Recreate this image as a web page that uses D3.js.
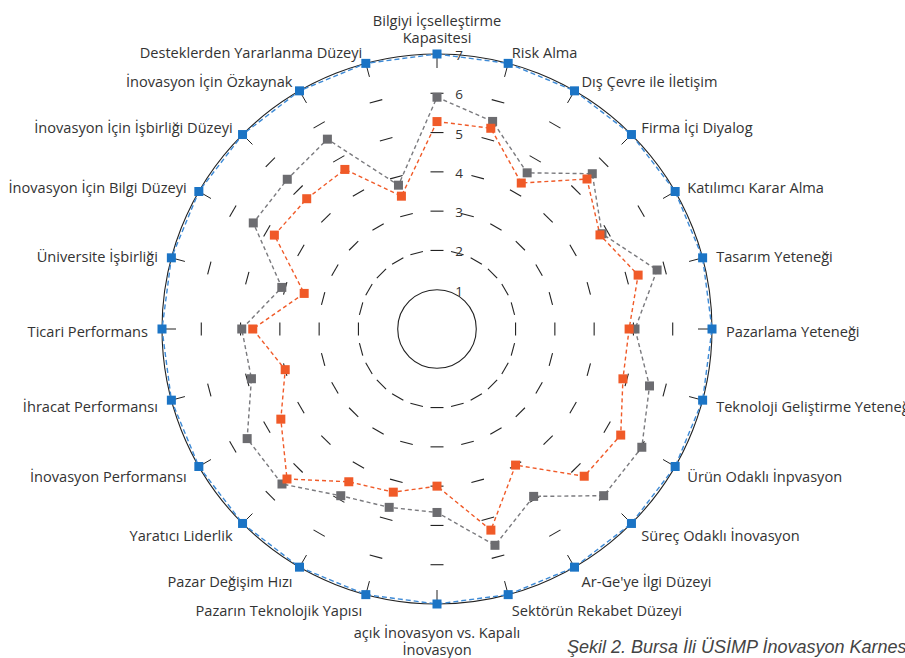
<!DOCTYPE html>
<html><head><meta charset="utf-8">
<script src="https://cdn.jsdelivr.net/npm/d3@7"></script>
<style>
html,body{margin:0;padding:0;background:#fff;overflow:hidden;}
svg{display:block;}
</style></head>
<body>
<svg id="chart" width="905" height="658"></svg>
<script>
const categories = [
  "Bilgiyi İçselleştirme\nKapasitesi",
  "Risk Alma",
  "Dış Çevre ile İletişim",
  "Firma İçi Diyalog",
  "Katılımcı Karar Alma",
  "Tasarım Yeteneği",
  "Pazarlama Yeteneği",
  "Teknoloji Geliştirme Yeteneği",
  "Ürün Odaklı İnpvasyon",
  "Süreç Odaklı İnovasyon",
  "Ar-Ge'ye İlgi Düzeyi",
  "Sektörün Rekabet Düzeyi",
  "açık İnovasyon vs. Kapalı\nİnovasyon",
  "Pazarın Teknolojik Yapısı",
  "Pazar Değişim Hızı",
  "Yaratıcı Liderlik",
  "İnovasyon Performansı",
  "İhracat Performansı",
  "Ticari Performans",
  "Üniversite İşbirliği",
  "İnovasyon İçin Bilgi Düzeyi",
  "İnovasyon İçin İşbirliği Düzeyi",
  "İnovasyon İçin Özkaynak",
  "Desteklerden Yararlanma Düzeyi"
];
const blueValues   = [7,7,7,7,7,7,7,7,7,7,7,7,7,7,7,7,7,7,7,7,7,7,7,7];
const grayValues   = [5.9,5.47,4.59,5.59,4.85,5.8,5.04,5.6,6.02,6.0,4.92,5.7,4.67,4.7,4.9,5.58,5.58,4.89,4.97,4.09,5.4,5.39,5.58,3.79];
const orangeValues = [5.28,5.29,4.29,5.4,4.79,5.3,4.89,4.9,5.4,5.3,4.0,5.3,4.0,4.3,4.49,5.4,4.59,4.0,4.69,3.5,4.78,4.69,4.69,3.5];
const tickValues   = [1,2,3,4,5,6,7];
const caption = "Şekil 2. Bursa İli ÜSİMP İnovasyon Karnesi";

const cx = 437, cy = 329, R = 275;
const FONT = "'Open Sans', 'Noto Sans', sans-serif";
const svg = d3.select("#chart");
const g = svg.append("g").attr("transform", `translate(${cx},${cy})`);

const r = d3.scaleLinear().domain([0, 7]).range([0, R]);
const angle = d3.scaleLinear().domain([0, categories.length]).range([0, 2 * Math.PI]);
const px = (i, v) => r(v) * Math.sin(angle(i));
const py = (i, v) => -r(v) * Math.cos(angle(i));

// grid: inner and outer solid circles
[tickValues[0], tickValues[tickValues.length - 1]].forEach(t => {
  g.append("circle").attr("r", r(t)).attr("fill", "none")
    .attr("stroke", "#222").attr("stroke-width", 1.1);
});
// per-axis short ticks on intermediate levels
const mid = tickValues.slice(1, -1);
categories.forEach((c, i) => {
  const a = angle(i);
  const ux = Math.sin(a), uy = -Math.cos(a);
  const tx = -uy, ty = ux;
  mid.forEach(t => {
    const x0 = r(t) * ux, y0 = r(t) * uy;
    g.append("line")
      .attr("x1", x0 - tx * 6.5).attr("y1", y0 - ty * 6.5)
      .attr("x2", x0 + tx * 6.5).attr("y2", y0 + ty * 6.5)
      .attr("stroke", "#222").attr("stroke-width", 1.1);
  });
  // radial tick at outer ring
  g.append("line")
    .attr("x1", r(7) * ux).attr("y1", r(7) * uy)
    .attr("x2", (r(7) - 14) * ux).attr("y2", (r(7) - 14) * uy)
    .attr("stroke", "#222").attr("stroke-width", 1);
});

// level labels
g.selectAll("text.lvl").data(tickValues).join("text")
  .attr("class", "lvl")
  .attr("x", 22).attr("y", d => -r(d) + 1)
  .attr("text-anchor", "middle").attr("dominant-baseline", "central")
  .attr("font-family", FONT).attr("font-size", 13.5).attr("fill", "#333")
  .text(d => d);

// series
const line = d3.lineRadial().angle((d, i) => angle(i)).radius(d => r(d)).curve(d3.curveLinearClosed);
const series = [
  {vals: blueValues, color: "#1b74c5", line: "#3d8ad6", dash: "5,3"},
  {vals: grayValues, color: "#6c6c70", line: "#7a7a7e", dash: "4,3"},
  {vals: orangeValues, color: "#f05a28", line: "#f05a28", dash: "4,3"}
];
series.forEach(s => {
  g.append("path").datum(s.vals).attr("d", line)
    .attr("fill", "none").attr("stroke", s.line)
    .attr("stroke-width", 1.4).attr("stroke-dasharray", s.dash);
});
series.forEach(s => {
  g.selectAll(null).data(s.vals).join("rect")
    .attr("x", (d, i) => px(i, d) - 4.5).attr("y", (d, i) => py(i, d) - 4.5)
    .attr("width", 9).attr("height", 9).attr("fill", s.color);
});

// category labels
const LR = 289;
categories.forEach((c, i) => {
  const a = angle(i);
  const sx = Math.sin(a), cyy = -Math.cos(a);
  const lines = c.split("\n");
  let x = LR * sx, y = LR * cyy + 2;
  let anchor = "start";
  if (Math.abs(sx) < 0.01) {
    anchor = "middle";
    if (cyy < 0) y = -R - 34;
    else y = R + 28;
  } else if (sx < 0) anchor = "end";
  const t = g.append("text")
    .attr("text-anchor", anchor)
    .attr("font-family", FONT).attr("font-size", 14.6).attr("fill", "#333");
  lines.forEach((ln, k) => {
    t.append("tspan").attr("x", x).attr("y", y + k * 17)
      .attr("dominant-baseline", "central").text(ln);
  });
});

svg.append("text").attr("x", 567).attr("y", 653)
  .attr("font-family", "'Liberation Sans', Arial, sans-serif").attr("font-style", "italic")
  .attr("font-size", 18).attr("fill", "#444").text(caption);
</script>
</body></html>
